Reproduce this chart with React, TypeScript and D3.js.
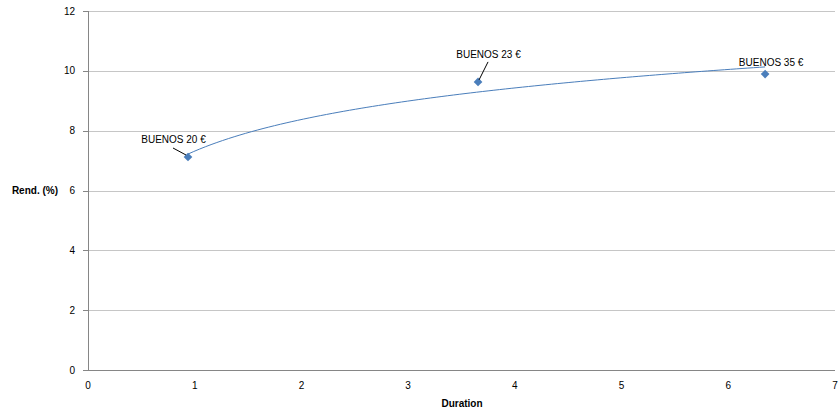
import React from "react";
import * as d3 from "d3";

const names = ["BUENOS 20 €", "BUENOS 23 €", "BUENOS 35 €"];
const durations = [0.937, 3.655, 6.345];
const yields = [7.12, 9.63, 9.89];
const xTicks = [0, 1, 2, 3, 4, 5, 6, 7];
const yTicks = [0, 2, 4, 6, 8, 10, 12];
// label offsets (pixels) relative to marker: [dx, dy, leader]
const labelOffsets: [number, number, boolean][] = [
  [-14.5, -14, true],
  [10.5, -24, true],
  [6, -8, false],
];

const W = 840;
const H = 414;
const M = { left: 88, right: 5, top: 11, bottom: 44 };
const FONT = "'Liberation Sans', Arial, sans-serif";
const BLUE = "#4a7ebb";

export default function App() {
  const x = d3.scaleLinear().domain([0, 7]).range([M.left, W - M.right]);
  const y = d3.scaleLinear().domain([0, 12]).range([H - M.bottom, M.top]);

  // logarithmic trendline fitted to data
  const lx = durations.map((d) => Math.log(d));
  const mx = d3.mean(lx)!;
  const my = d3.mean(yields)!;
  const sxy = d3.sum(lx.map((v, i) => (v - mx) * (yields[i] - my)));
  const sxx = d3.sum(lx.map((v) => (v - mx) * (v - mx)));
  const b = sxy / sxx;
  const a = my - b * mx;
  const x0 = d3.min(durations)!;
  const x1 = d3.max(durations)!;
  const trend = d3.range(0, 101).map((i) => {
    const xv = x0 + ((x1 - x0) * i) / 100;
    return [xv, a + b * Math.log(xv)] as [number, number];
  });
  const line = d3
    .line<[number, number]>()
    .x((d) => x(d[0]))
    .y((d) => y(d[1]))
    .curve(d3.curveLinear);

  const diamond = d3.symbol().type(d3.symbolDiamond2 || d3.symbolDiamond).size(48)();
  const plotBottom = y(0);

  return (
    <svg
      width={W}
      height={H}
      style={{ position: "absolute", left: 0, top: 0, display: "block", background: "#fff" }}
      fontFamily={FONT}
    >
      {/* gridlines */}
      {yTicks.filter((t) => t > 0).map((t) => (
        <line key={"g" + t} x1={x(0)} x2={x(7)} y1={Math.round(y(t)) + 0.5} y2={Math.round(y(t)) + 0.5} stroke="#c6c6c6" strokeWidth={1} />
      ))}
      {/* axes */}
      <line x1={x(0) + 0.5} x2={x(0) + 0.5} y1={y(12)} y2={plotBottom} stroke="#868686" />
      <line x1={x(0)} x2={x(7)} y1={Math.round(plotBottom) + 0.5} y2={Math.round(plotBottom) + 0.5} stroke="#868686" />
      {yTicks.map((t) => (
        <line key={"t" + t} x1={x(0) - 5} x2={x(0)} y1={Math.round(y(t)) + 0.5} y2={Math.round(y(t)) + 0.5} stroke="#868686" />
      ))}
      {/* y tick labels */}
      {yTicks.map((t) => (
        <text key={"yl" + t} x={x(0) - 13} y={y(t) + 3.6} textAnchor="end" fontSize={10} fill="#000">
          {t}
        </text>
      ))}
      {/* x tick labels */}
      {xTicks.map((t) => (
        <text key={"xl" + t} x={x(t)} y={plotBottom + 19} textAnchor="middle" fontSize={10} fill="#000">
          {t}
        </text>
      ))}
      {/* axis titles */}
      <text x={58} y={y(6) + 3.6} textAnchor="end" fontSize={10} fontWeight="bold">
        Rend. (%)
      </text>
      <text x={462} y={407} textAnchor="middle" fontSize={10} fontWeight="bold">
        Duration
      </text>
      {/* trendline */}
      <path d={line(trend) || ""} fill="none" stroke={BLUE} strokeWidth={1} />
      {/* markers */}
      {durations.map((d, i) => (
        <path key={"m" + i} d={diamond || ""} transform={`translate(${x(d)},${y(yields[i])})`} fill={BLUE} />
      ))}
      {/* data labels */}
      {durations.map((d, i) => {
        const px = x(d);
        const py = y(yields[i]);
        const [dx, dy, leader] = labelOffsets[i];
        const lx0 = px + dx;
        const ly0 = py + dy;
        return (
          <g key={"lab" + i}>
            {leader && (
              <line
                x1={i === 0 ? px - 15 : px + 10}
                y1={i === 0 ? py - 9 : py - 20}
                x2={i === 0 ? px - 2 : px + 1}
                y2={i === 0 ? py - 2 : py - 2}
                stroke="#000"
                strokeWidth={1}
              />
            )}
            <text x={lx0} y={ly0} textAnchor="middle" fontSize={10} fill="#000">
              {names[i]}
            </text>
          </g>
        );
      })}
    </svg>
  );
}
